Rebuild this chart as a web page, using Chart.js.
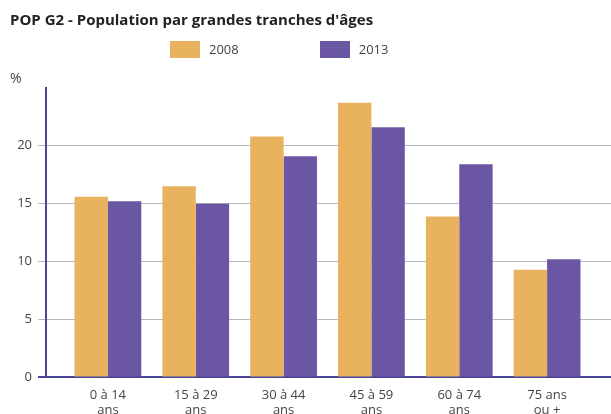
<!DOCTYPE html>
<html lang="fr">
<head>
<meta charset="utf-8">
<title>POP G2</title>
<script src="https://cdn.jsdelivr.net/npm/chart.js@4.4.1/dist/chart.umd.min.js"></script>
<style>
  html, body { margin: 0; padding: 0; background: #fff; overflow: hidden; }
  .wrap { position: relative; width: 611px; height: 428px; }
  #legend { position: absolute; top: 40px; left: 170px; display: flex; font: 13px "Open Sans", sans-serif; color: #444; }
  #legend .item { display: flex; align-items: center; margin-right: 81px; }
  #legend .swatch { width: 30px; height: 17px; margin-right: 9px; }
</style>
</head>
<body>
<div class="wrap">
  <canvas id="popChart" width="611" height="428"></canvas>
  <div id="legend"></div>
</div>
<script>
// tranches d'âges (deux lignes par libellé)
const tranches = [
  ['0 à 14', 'ans'],
  ['15 à 29', 'ans'],
  ['30 à 44', 'ans'],
  ['45 à 59', 'ans'],
  ['60 à 74', 'ans'],
  ['75 ans', 'ou +']
];
const annees = ['2008', '2013'];
const pop2008 = [15.6, 16.5, 20.8, 23.7, 13.9, 9.3];
const pop2013 = [15.2, 15.0, 19.1, 21.6, 18.4, 10.2];
const yTicks = [0, 5, 10, 15, 20, 25];

const axisColor = '#47449a';
const gridColor = '#b8b8bc';
const fontFamily = '"Open Sans", sans-serif';

// légende HTML construite depuis les jeux de données
const htmlLegend = {
  id: 'htmlLegend',
  afterUpdate(chart) {
    const box = document.getElementById('legend');
    box.innerHTML = '';
    chart.data.datasets.forEach(ds => {
      const item = document.createElement('div');
      item.className = 'item';
      const sw = document.createElement('span');
      sw.className = 'swatch';
      sw.style.background = ds.backgroundColor;
      const txt = document.createElement('span');
      txt.textContent = ds.label;
      item.appendChild(sw);
      item.appendChild(txt);
      box.appendChild(item);
    });
  }
};

// marge entre l'axe vertical et le premier / dernier groupe de barres
const xInset = {
  id: 'xInset',
  afterLayout(chart) {
    const xs = chart.scales.x;
    xs.left = chart.chartArea.left + 18;
    xs.right = chart.chartArea.right - 20;
    xs.configure();
  }
};

const ctx = document.getElementById('popChart').getContext('2d');

const popChart = new Chart(ctx, {
  type: 'bar',
  data: {
    labels: tranches,
    datasets: [
      {
        label: annees[0],
        data: pop2008,
        backgroundColor: '#e9b25f',
        categoryPercentage: 0.76,
        barPercentage: 1.0
      },
      {
        label: annees[1],
        data: pop2013,
        backgroundColor: '#6b56a4',
        categoryPercentage: 0.76,
        barPercentage: 1.0
      }
    ]
  },
  options: {
    responsive: false,
    animation: false,
    layout: { padding: { left: 10, right: 0, top: 0, bottom: 0 } },
    scales: {
      x: {
        grid: { display: false, drawTicks: false },
        border: { display: false },
        ticks: {
          padding: 11,
          color: '#444',
          font: { family: fontFamily, size: 13, lineHeight: 1.1 },
          maxRotation: 0
        }
      },
      y: {
        min: 0,
        max: 25,
        afterBuildTicks(scale) {
          scale.ticks = yTicks.map(v => ({ value: v }));
        },
        afterFit(scale) {
          scale.width = 36;
        },
        border: { display: true, color: axisColor, width: 2 },
        grid: {
          color: c => c.tick.value === 0 ? axisColor : (c.tick.value === 25 ? 'rgba(0,0,0,0)' : gridColor),
          lineWidth: c => c.tick.value === 0 ? 2 : 1,
          tickColor: c => c.tick.value === 0 ? axisColor : (c.tick.value === 25 ? 'rgba(0,0,0,0)' : gridColor),
          tickLength: 8
        },
        ticks: {
          padding: 6,
          color: '#444',
          font: { family: fontFamily, size: 13 },
          callback: v => v === 25 ? '' : v
        }
      }
    },
    plugins: {
      legend: { display: false },
      tooltip: { enabled: false },
      title: {
        display: true,
        text: "POP G2 - Population par grandes tranches d'âges",
        align: 'start',
        color: '#222',
        font: { family: fontFamily, size: 15, weight: 'bold', lineHeight: 1.2 },
        padding: { top: 12, bottom: 0 }
      },
      subtitle: {
        display: true,
        text: '%',
        align: 'start',
        color: '#444',
        font: { family: fontFamily, size: 14, lineHeight: 1.2 },
        padding: { top: 41, bottom: 0 }
      }
    }
  },
  plugins: [htmlLegend, xInset]
});
</script>
</body>
</html>
